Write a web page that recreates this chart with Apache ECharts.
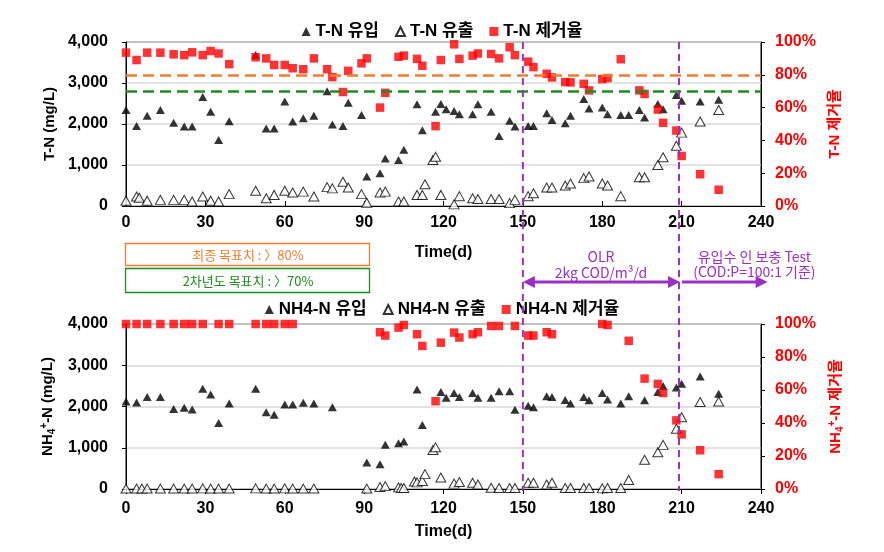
<!DOCTYPE html>
<html>
<head>
<meta charset="utf-8">
<script src="https://cdn.jsdelivr.net/npm/echarts/dist/echarts.min.js"></script>
<style>html,body{margin:0;padding:0;background:#fff}#chart{width:884px;height:552px}</style>
</head>
<body>
<div id="chart"></div>
<script>
// ---- data: [day, value] ----
const tnIn = [[0,2340],[4,1950],[8,2200],[13,2340],[18,2030],[22,1940],[25,1940],[29,2660],[32,2300],[35,1610],[39,2070],[49,3680],[53,1890],[56,1890],[60,2550],[63,2060],[67,2140],[71,2200],[76,2800],[78,1990],[82,1950],[84,2520],[89,2220],[91,720],[96,800],[98,1160],[103,1120],[105,1370],[110,2480],[112,1850],[117,2300],[119,2490],[121,2360],[124,2320],[126,2240],[131,2240],[133,2480],[138,2300],[141,1710],[145,2080],[147,1940],[152,1950],[154,1950],[159,2260],[161,2100],[166,2020],[168,2200],[173,2610],[175,2380],[180,2400],[182,2240],[187,2220],[190,2220],[194,2340],[196,2160],[201,2490],[203,2360],[208,2710],[210,2570],[217,2550],[224,2590]];
const tnOut = [[0,130],[4,230],[5,200],[8,130],[13,150],[18,150],[22,150],[25,110],[29,230],[32,130],[35,110],[39,290],[49,370],[53,190],[56,270],[60,370],[63,330],[67,350],[71,230],[76,460],[78,430],[82,590],[84,450],[89,290],[91,80],[96,330],[98,350],[103,110],[105,110],[110,270],[112,270],[113,530],[116,1120],[117,1200],[119,270],[124,40],[126,240],[131,190],[133,170],[138,170],[141,170],[145,70],[147,150],[152,240],[154,310],[159,450],[161,450],[166,500],[168,550],[173,680],[175,720],[180,550],[182,500],[187,240],[194,700],[196,700],[201,1000],[203,1190],[208,1470],[210,1790],[217,2060],[224,2340]];
const tnRem = [[0,93.5],[4,89],[8,93.5],[13,93.5],[18,92.5],[22,92],[25,93.7],[29,92],[32,94.5],[35,93],[39,86.5],[49,90.7],[53,90],[56,86],[60,86],[63,84],[67,83.4],[71,90],[76,83.4],[78,78.6],[82,69.5],[84,82.4],[89,87],[91,90],[96,60],[98,69],[103,91],[105,91.7],[110,89.7],[112,85.5],[117,48.7],[119,89],[124,98.6],[126,89.7],[131,91.7],[133,93],[138,92.7],[141,90],[145,96.8],[147,92],[152,88],[154,84.7],[159,80.6],[161,78.4],[166,75.6],[168,75.4],[173,74.5],[175,70.5],[180,77.4],[182,78],[187,89.5],[194,70.5],[196,68.3],[201,58.8],[203,50.7],[208,46],[210,30.5],[217,19.4],[224,9.9]];
const nhIn = [[0,2120],[4,2100],[8,2230],[13,2230],[18,1940],[22,1970],[25,1930],[29,2430],[32,2290],[35,1600],[39,2070],[49,2430],[53,1860],[56,1800],[60,2050],[63,2050],[67,2090],[71,2070],[78,1980],[91,640],[96,600],[98,1070],[103,1110],[105,1150],[110,2410],[112,1550],[119,2350],[121,2210],[124,2330],[126,2230],[131,2330],[133,2210],[138,2210],[141,2370],[145,2370],[147,1920],[152,2020],[154,1980],[159,2250],[161,2230],[166,2160],[168,2070],[173,2230],[175,2150],[180,2330],[182,2170],[187,2070],[190,2250],[196,2150],[201,2350],[203,2500],[208,2460],[210,2550],[217,2730],[224,2310]];
const nhOut = [[0,10],[4,10],[6,10],[8,10],[13,10],[18,10],[22,10],[25,10],[29,15],[32,10],[35,10],[39,10],[49,15],[53,10],[56,10],[60,15],[63,10],[67,10],[71,10],[91,10],[96,50],[98,70],[103,40],[104,25],[105,25],[109,180],[110,160],[112,195],[113,360],[116,945],[117,1010],[119,280],[124,130],[126,170],[131,150],[133,110],[138,30],[141,25],[145,25],[147,25],[152,150],[154,150],[159,110],[161,150],[166,25],[168,25],[173,25],[175,25],[180,15],[182,25],[187,25],[190,220],[196,710],[201,890],[203,1070],[208,1460],[210,1740],[217,2110],[224,2120]];
const nhRem = [[0,100],[4,100],[8,100],[13,100],[18,100],[22,100],[25,100],[29,100],[35,100],[39,100],[49,100],[53,100],[56,100],[60,100],[63,100],[96,95],[98,93],[103,97.8],[105,99.4],[110,93.8],[112,86.7],[117,53.2],[119,88.7],[124,94.8],[126,91.8],[131,93.8],[133,95],[138,98.8],[141,98.8],[147,98.8],[152,93],[154,93],[159,95],[161,93.8],[180,100],[182,99.4],[190,89.8],[196,66.9],[201,63.7],[203,58.2],[208,41.6],[210,33.1],[217,23.5],[224,9]];
const targets = [80, 70];
const targetLabels = ['최종 목표치 : 〉80%', '2차년도 목표치 : 〉70%'];
const phaseDays = [150, 209, 242.5];
const xTickStep = 30;

const FF = "'Liberation Sans','Noto Sans CJK KR',sans-serif";
const KF = "'Noto Sans CJK KR','Liberation Sans',sans-serif";
const RED = '#FF0000';
const PURPLE = '#9B2FC2';
const ORANGE = '#ED7D31';
const GREEN = '#1E8C1E';

const chart = echarts.init(document.getElementById('chart'), null, {renderer: 'canvas'});

function xAx(grid, inside, labelMargin, nameGap) {
  return {
    gridIndex: grid, type: 'value', min: 0, max: 240, interval: xTickStep,
    axisLine: {onZero: false, lineStyle: {color: '#000', width: 1}},
    axisTick: {inside: inside, length: 5, lineStyle: {color: '#000'}},
    splitLine: {show: false},
    axisLabel: {color: '#000', fontSize: 16, fontWeight: 'bold', fontFamily: FF, margin: labelMargin},
    name: 'Time(d)', nameLocation: 'middle', nameGap: nameGap,
    nameTextStyle: {color: '#000', fontSize: 16, fontWeight: 'bold', fontFamily: FF}
  };
}
function yLeft(grid, name) {
  return {
    gridIndex: grid, type: 'value', min: 0, max: 4000, interval: 1000, position: 'left',
    axisLine: {show: true, lineStyle: {color: '#000'}},
    axisTick: {show: true, inside: false, length: 4, lineStyle: {color: '#000'}},
    splitLine: {show: true, lineStyle: {color: '#D9D9D9', width: 1.5}},
    axisLabel: {color: '#000', fontSize: 16, fontWeight: 'bold', fontFamily: FF, margin: 18,
      formatter: v => v.toLocaleString('en-US')},
    name: name, nameLocation: 'middle', nameRotate: 90, nameGap: 68,
    nameTextStyle: {color: '#000', fontSize: 15, fontWeight: 'bold', fontFamily: FF,
      rich: {n: {fontSize: 15, fontWeight: 'bold', fontFamily: FF, color: '#000'},
             s: {fontSize: 10, fontWeight: 'bold', fontFamily: FF, color: '#000', padding: [8, 0, 0, 0]},
             p: {fontSize: 10, fontWeight: 'bold', fontFamily: FF, color: '#000', padding: [0, 0, 8, 0]}}}
  };
}
function yRight(grid, name) {
  return {
    gridIndex: grid, type: 'value', min: 0, max: 100, interval: 20, position: 'right',
    axisLine: {show: true, lineStyle: {color: '#000'}},
    axisTick: {show: true, inside: false, length: 4, lineStyle: {color: '#000'}},
    splitLine: {show: false},
    axisLabel: {color: RED, fontSize: 16, fontWeight: 'bold', fontFamily: FF, margin: 14, formatter: '{value}%'},
    name: name, nameLocation: 'middle', nameRotate: 90, nameGap: 66,
    nameTextStyle: {color: RED, fontSize: 15, fontWeight: 'bold', fontFamily: FF,
      rich: {n: {fontSize: 15, fontWeight: 'bold', fontFamily: FF, color: RED},
             s: {fontSize: 10, fontWeight: 'bold', fontFamily: FF, color: RED, padding: [8, 0, 0, 0]},
             p: {fontSize: 10, fontWeight: 'bold', fontFamily: FF, color: RED, padding: [0, 0, 8, 0]}}}
  };
}
function filled(name, xi, yi, data) {
  return {name, type: 'scatter', xAxisIndex: xi, yAxisIndex: yi, data, symbol: 'triangle',
    symbolSize: [9, 8], itemStyle: {color: '#000'}, z: 3, animation: false};
}
function open(name, xi, yi, data) {
  return {name, type: 'scatter', xAxisIndex: xi, yAxisIndex: yi, data, symbol: 'triangle',
    symbolSize: [10, 9], itemStyle: {color: '#fff', borderColor: '#000', borderWidth: 1}, z: 3, animation: false};
}
function squares(name, xi, yi, data, extra) {
  return Object.assign({name, type: 'scatter', xAxisIndex: xi, yAxisIndex: yi, data, symbol: 'rect',
    symbolSize: 8.5, itemStyle: {color: RED}, z: 4, animation: false}, extra || {});
}
const legendText = {color: '#000', fontSize: 17, fontWeight: 'bold', fontFamily: FF};

chart.setOption({
  animation: false,
  grid: [
    {left: 126, right: 123, top: 42, height: 164, show: true, borderColor: '#000', borderWidth: 1},
    {left: 126, right: 123, top: 324, height: 165, show: true, borderColor: '#000', borderWidth: 1}
  ],
  legend: [
    {data: ['T-N 유입', 'T-N 유출', 'T-N 제거율'], top: 23, left: 'center', itemGap: 16,
      itemWidth: 9, itemHeight: 9, textStyle: legendText, padding: 0},
    {data: ['NH4-N 유입', 'NH4-N 유출', 'NH4-N 제거율'], top: 301, left: 'center', itemGap: 16,
      itemWidth: 9, itemHeight: 9, textStyle: legendText, padding: 0}
  ],
  xAxis: [xAx(0, true, 9, 39), xAx(1, false, 12, 35)],
  yAxis: [
    yLeft(0, 'T-N (mg/L)'),
    yRight(0, 'T-N 제거율'),
    yLeft(1, '{n|NH}{s|4}{p|+}{n|-N (mg/L)}'),
    yRight(1, '{n|NH}{s|4}{p|+}{n|-N 제거율}')
  ],
  series: [
    filled('T-N 유입', 0, 0, tnIn),
    open('T-N 유출', 0, 0, tnOut),
    squares('T-N 제거율', 0, 1, tnRem, {
      markLine: {
        silent: true, symbol: ['none', 'none'], label: {show: false},
        lineStyle: {type: [11, 6], width: 2.5},
        data: [
          {yAxis: targets[0], lineStyle: {color: ORANGE, type: [11, 6], width: 2.5}},
          {yAxis: targets[1], lineStyle: {color: GREEN, type: [11, 6], width: 2.5}}
        ]
      }
    }),
    filled('NH4-N 유입', 1, 2, nhIn),
    open('NH4-N 유출', 1, 2, nhOut),
    squares('NH4-N 제거율', 1, 3, nhRem)
  ]
});

// ---- annotations positioned through the axes ----
const px = d => chart.convertToPixel({xAxisIndex: 0}, d);
const yTop = chart.convertToPixel({yAxisIndex: 0}, 4000);
const yBot = chart.convertToPixel({yAxisIndex: 2}, 0) + 2;
const x1 = px(phaseDays[0]), x2 = px(phaseDays[1]), x3 = px(phaseDays[2]);
const x0 = px(0);
const ay = 282;
const g = [];
[x1, x2].forEach(x => g.push({type: 'line', shape: {x1: x, y1: yTop, x2: x, y2: yBot},
  style: {stroke: PURPLE, lineWidth: 2, lineDash: [7, 5]}, z: 20, silent: true}));
// double arrow
g.push({type: 'line', shape: {x1: x1 + 6, y1: ay, x2: x2 - 6, y2: ay}, style: {stroke: PURPLE, lineWidth: 3}, z: 20});
g.push({type: 'polygon', shape: {points: [[x1, ay], [x1 + 12, ay - 6], [x1 + 12, ay + 6]]}, style: {fill: PURPLE}, z: 20});
g.push({type: 'polygon', shape: {points: [[x2 + 1, ay], [x2 - 11, ay - 6], [x2 - 11, ay + 6]]}, style: {fill: PURPLE}, z: 20});
// right arrow
g.push({type: 'line', shape: {x1: x2 + 3, y1: ay, x2: x3 - 6, y2: ay}, style: {stroke: PURPLE, lineWidth: 3}, z: 20});
g.push({type: 'polygon', shape: {points: [[x3, ay], [x3 - 12, ay - 6], [x3 - 12, ay + 6]]}, style: {fill: PURPLE}, z: 20});
const ptxt = (t, x, y) => ({type: 'text', x: x, y: y, style: {text: t, fill: PURPLE, font: '14px ' + KF, align: 'center', verticalAlign: 'middle'}, z: 21});
g.push(ptxt('OLR', (x1 + x2) / 2, 257));
g.push(ptxt('2kg COD/m³/d', (x1 + x2) / 2, 273));
g.push(ptxt('유입수 인 보충 Test', px(237.5), 257));
g.push(ptxt('(COD:P=100:1 기준)', px(237.5), 272));
// target boxes
const bw = 244;
g.push({type: 'rect', shape: {x: x0 - 0.5, y: 243.5, width: bw, height: 22}, style: {fill: '#fff', stroke: ORANGE, lineWidth: 1.3}, z: 20});
g.push({type: 'rect', shape: {x: x0 - 0.5, y: 268.5, width: bw, height: 24}, style: {fill: '#fff', stroke: GREEN, lineWidth: 1.3}, z: 20});
g.push({type: 'text', x: x0 + bw / 2, y: 255, style: {text: targetLabels[0], fill: ORANGE, font: '13px ' + KF, align: 'center', verticalAlign: 'middle'}, z: 21});
g.push({type: 'text', x: x0 + bw / 2, y: 281, style: {text: targetLabels[1], fill: GREEN, font: '13px ' + KF, align: 'center', verticalAlign: 'middle'}, z: 21});
chart.setOption({graphic: g});
</script>
</body>
</html>
